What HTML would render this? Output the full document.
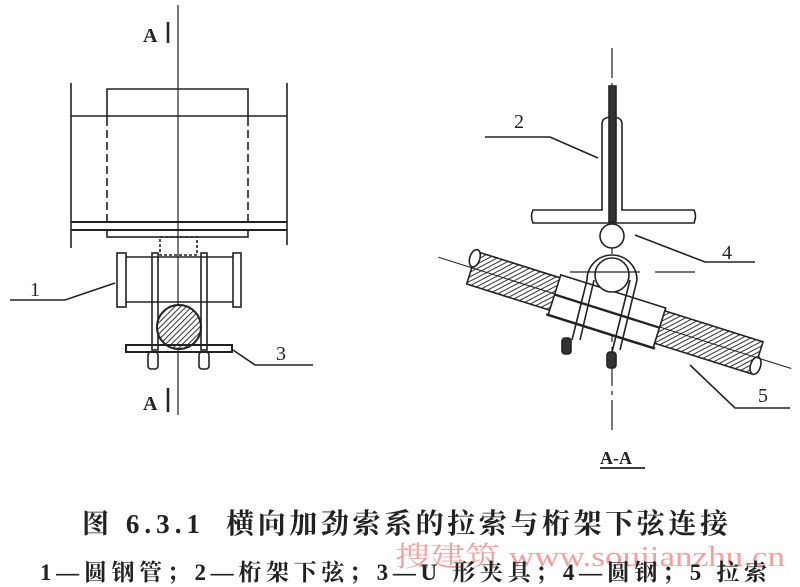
<!DOCTYPE html>
<html><head><meta charset="utf-8"><style>
body{margin:0;background:#fff;width:800px;height:587px;overflow:hidden}
svg{display:block}
text{font-family:"Liberation Serif","Noto Serif CJK SC",serif;fill:#222}
</style></head><body>
<svg width="800" height="587" viewBox="0 0 800 587" xmlns="http://www.w3.org/2000/svg">
<defs>
<pattern id="h" width="4" height="4" patternUnits="userSpaceOnUse" patternTransform="rotate(45)">
<rect width="4" height="4" fill="#fff"/><line x1="0" y1="0" x2="0" y2="4" stroke="#333" stroke-width="2"/></pattern>
</defs>
<g stroke="#222" fill="none" stroke-width="1.6">
<!-- LEFT VIEW -->
<line x1="178" y1="5" x2="178" y2="415" stroke-width="1.2"/>
<line x1="71" y1="83" x2="71" y2="248"/>
<line x1="287" y1="83" x2="287" y2="245"/>
<polyline points="107,118 107,89 248,89 248,118"/>
<line x1="107" y1="118" x2="107" y2="222" stroke-dasharray="8,4"/>
<line x1="248" y1="118" x2="248" y2="222" stroke-dasharray="8,4"/>
<line x1="71" y1="116" x2="287" y2="116"/>
<line x1="71" y1="222" x2="287" y2="222" stroke-width="2"/>
<line x1="71" y1="230" x2="287" y2="230" stroke-width="2"/>
<rect x="107" y="230" width="141" height="7"/>
<rect x="160" y="237" width="37" height="18" stroke-dasharray="3,2"/>
<rect x="117" y="253" width="9" height="54"/>
<rect x="233" y="253" width="8" height="54"/>
<line x1="126" y1="257" x2="233" y2="257"/>
<line x1="126" y1="302" x2="233" y2="302"/>
<rect x="152" y="253" width="6" height="97"/>
<rect x="201" y="253" width="6" height="97"/>
<circle cx="179" cy="327" r="22" fill="url(#h)" stroke-width="2"/>
<rect x="126" y="345" width="106" height="7" stroke-width="2"/>
<rect x="148" y="352" width="10" height="17" rx="3"/>
<rect x="199" y="352" width="10" height="17" rx="3"/>
<polyline points="10,300 65,300 115,283"/>
<polyline points="233,350 255,365 313,365"/>
<line x1="168" y1="22" x2="168" y2="43" stroke-width="2.5"/>
<line x1="168" y1="388" x2="168" y2="412" stroke-width="2.5"/>
<!-- RIGHT VIEW -->
<line x1="612" y1="48" x2="612" y2="435" stroke-width="1.2" stroke-dasharray="30,5,4,5"/>
<path d="M602,210 L602,124 Q602,117 612,117 Q622,117 622,124 L622,210 L694,210 Q697,216 694,223 L533,223 Q530,216 533,210 Z" fill="#fff"/>
<rect x="609" y="86" width="7" height="136" fill="#333"/>
<circle cx="612" cy="236" r="12" fill="#fff"/>
<g transform="rotate(17.5 612 312)">
<rect x="465" y="295" width="300" height="34" fill="url(#h)"/>
<ellipse cx="465" cy="302" rx="5" ry="9" fill="#fff"/>
<ellipse cx="765" cy="320" rx="5" ry="9" fill="#fff"/>
<rect x="552" y="292" width="110" height="42" fill="#fff"/>
<line x1="552" y1="313" x2="662" y2="313"/>
<line x1="430" y1="312" x2="800" y2="312" stroke-width="1"/>
<line x1="550" y1="334" x2="664" y2="334" stroke-width="2.5"/>
</g>
<path d="M587,280 A25,25 0 1 1 637,280 L620,350 M587,280 L572,340" fill="none"/>
<path d="M594,280 L580,340 M630,280 L612,352" fill="none"/>
<circle cx="612" cy="275" r="17" fill="#fff"/>
<line x1="570" y1="272" x2="640" y2="272" stroke-width="1.2"/>
<line x1="655" y1="272" x2="695" y2="272" stroke-width="1.2"/>
<rect x="562" y="338" width="9" height="16" rx="3" fill="#333"/>
<rect x="607" y="352" width="9" height="16" rx="3" fill="#333"/>
<polyline points="485,137 550,137 598,158"/>
<polyline points="635,235 705,262 755,262"/>
<polyline points="690,365 735,408 790,408"/>
<line x1="600" y1="468" x2="645" y2="468" stroke-width="1.8"/>
</g>
<text x="143" y="42" font-size="20" font-weight="bold" font-family="Liberation Sans">A</text>
<text x="143" y="410" font-size="20" font-weight="bold" font-family="Liberation Sans">A</text>
<text x="30" y="296" font-size="20">1</text>
<text x="276" y="360" font-size="20">3</text>
<text x="514" y="128" font-size="20">2</text>
<text x="722" y="259" font-size="20">4</text>
<text x="758" y="402" font-size="20">5</text>
<text x="600" y="464" font-size="18" font-weight="bold">A-A</text>
<text x="82" y="533" font-size="27" font-weight="bold" textLength="118" lengthAdjust="spacing">图 6.3.1</text>
<text x="226" y="533" font-size="28" font-weight="bold" textLength="502" lengthAdjust="spacing">横向加劲索系的拉索与桁架下弦连接</text>
<text x="395" y="566" font-size="28" style="fill:#f3a0a0" textLength="390" lengthAdjust="spacingAndGlyphs" font-family="Liberation Sans,Noto Sans CJK SC,sans-serif">搜建筑 www.soujianzhu.cn</text>
<text x="40" y="580" font-size="23" font-weight="bold" textLength="727" lengthAdjust="spacing">1—圆钢管；2—桁架下弦；3—U 形夹具；4—圆钢；5  拉索</text>
</svg>
</body></html>
